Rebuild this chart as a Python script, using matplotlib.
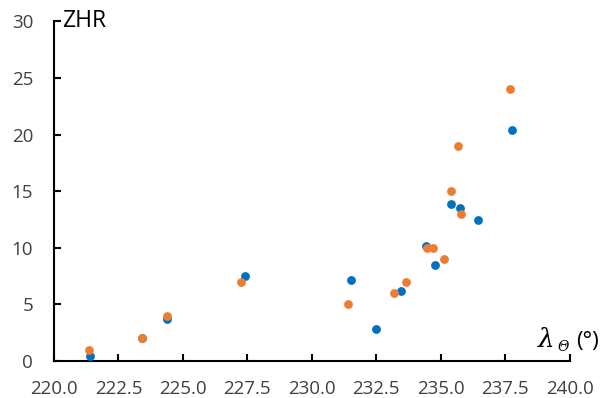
import matplotlib.pyplot as plt

plt.rcParams['font.family'] = ['Open Sans', 'DejaVu Sans']

# solar longitude (deg) and ZHR, two series
blue_x = [221.4, 223.4, 224.4, 227.4, 231.5, 232.47, 233.45, 234.41, 234.78,
          235.38, 235.75, 236.43, 237.76]
blue_y = [0.4, 2.0, 3.7, 7.5, 7.2, 2.8, 6.2, 10.2, 8.5, 13.9, 13.5, 12.5, 20.4]

orange_x = [221.37, 223.4, 224.4, 227.25, 231.4, 233.17, 233.67, 234.47, 234.7,
            235.14, 235.38, 235.65, 235.8, 237.67]
orange_y = [1.0, 2.0, 4.0, 7.0, 5.0, 6.0, 7.0, 10.0, 10.0, 9.0, 15.0, 19.0, 13.0, 24.0]

xticks = [220.0, 222.5, 225.0, 227.5, 230.0, 232.5, 235.0, 237.5, 240.0]
yticks = [0, 5, 10, 15, 20, 25, 30]

fig = plt.figure(figsize=(6, 3.98), dpi=100)
ax = fig.add_axes([0.09, 0.093, 0.8595, 0.853])

ax.scatter(blue_x, blue_y, s=40, color='#0070C0', linewidths=0, zorder=3)
ax.scatter(orange_x, orange_y, s=40, color='#ED7D31', linewidths=0, zorder=4)

ax.set_xlim(220, 240)
ax.set_ylim(0, 30)
ax.set_xticks(xticks)
ax.set_xticklabels(['%.1f' % t for t in xticks])
ax.set_yticks(yticks)

ax.spines['top'].set_visible(False)
ax.spines['right'].set_visible(False)
for s in ['left', 'bottom']:
    ax.spines[s].set_linewidth(1.5)
ax.tick_params(axis='both', direction='in', length=5, width=1.5,
               labelsize=13.5, labelcolor='#404040')
ax.tick_params(axis='x', pad=14)
ax.tick_params(axis='y', pad=15)

ax.text(0.015, 1.0, 'ZHR', transform=ax.transAxes, fontsize=16.5,
        va='center', ha='left')

# axis title: lambda with italic Theta subscript, then (°)
fig.text(538 / 600, 1 - 347 / 398, 'λ', family=['DejaVu Serif'], style='italic',
         fontsize=19, va='baseline', ha='left')
fig.text(557 / 600, 1 - 351 / 398, 'Θ', family=['DejaVu Serif'], style='italic',
         fontsize=10, va='baseline', ha='left')
fig.text(576 / 600, 1 - 347 / 398, '(°)', fontsize=16, va='baseline', ha='left')

plt.savefig('out.png', dpi=100)
